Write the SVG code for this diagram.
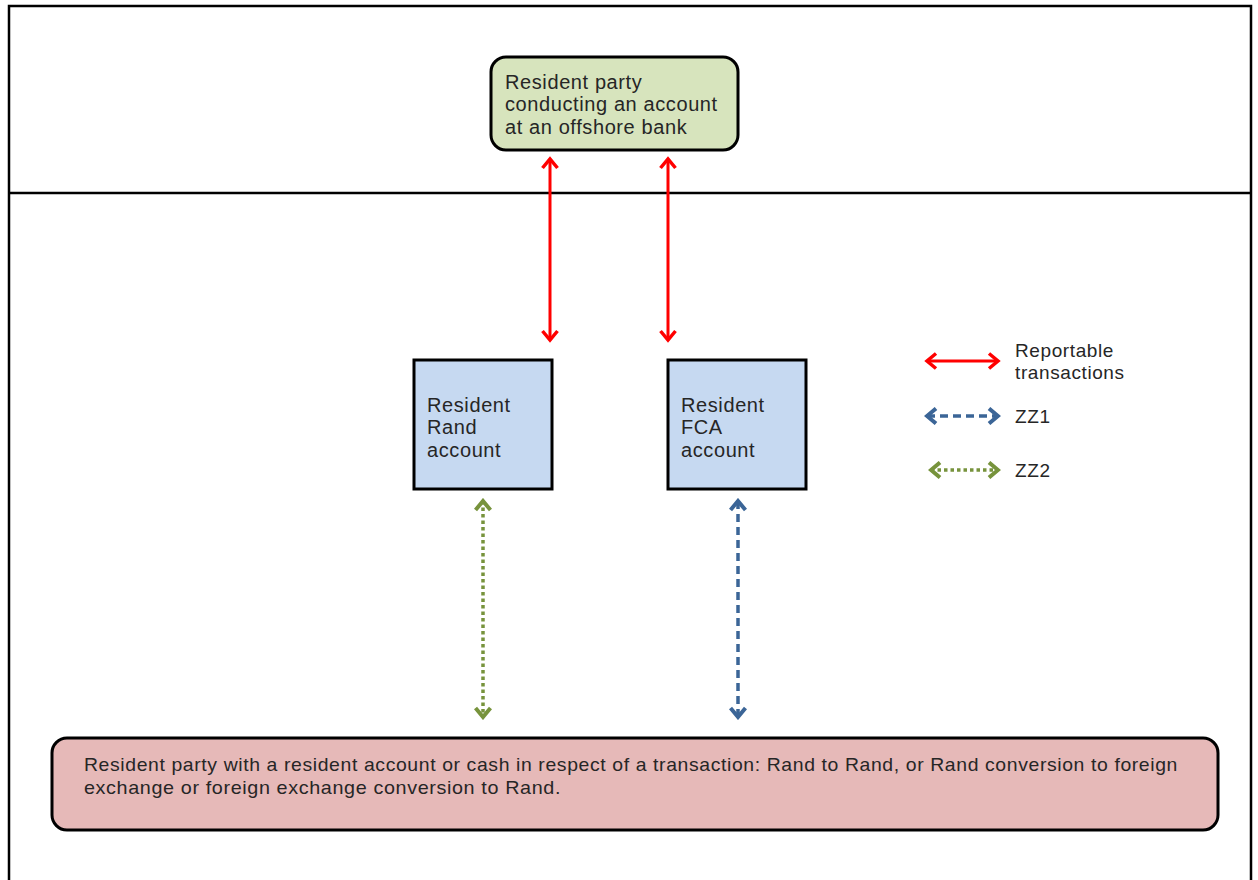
<svg xmlns="http://www.w3.org/2000/svg" width="1258" height="880" viewBox="0 0 1258 880">
<defs>
<style>
.frame{fill:none;stroke:#000;stroke-width:2.5}
.box{stroke:#000;stroke-width:3}
.t{font-family:"Liberation Sans",Arial,sans-serif;fill:#262626;font-size:19px;letter-spacing:0.6px}
.big{font-size:20px}
.red{stroke:#ff0000;stroke-width:3;fill:none}
.blue{stroke:#3b6597;stroke-width:3.5;fill:none;stroke-dasharray:8 5}
.green{stroke:#77933c;stroke-width:3.5;fill:none;stroke-dasharray:3.5 3}
</style>
<marker id="ar" viewBox="0 0 14 18" refX="11" refY="9" markerWidth="14" markerHeight="18" markerUnits="userSpaceOnUse" orient="auto-start-reverse"><path d="M2,1.5 L11,9 L2,16.5" fill="none" stroke="#ff0000" stroke-width="3.5"/></marker>
<marker id="ab" viewBox="0 0 14 18" refX="11" refY="9" markerWidth="14" markerHeight="18" markerUnits="userSpaceOnUse" orient="auto-start-reverse"><path d="M2,1.5 L11,9 L2,16.5" fill="none" stroke="#3b6597" stroke-width="4"/></marker>
<marker id="ag" viewBox="0 0 14 18" refX="11" refY="9" markerWidth="14" markerHeight="18" markerUnits="userSpaceOnUse" orient="auto-start-reverse"><path d="M2,1.5 L11,9 L2,16.5" fill="none" stroke="#77933c" stroke-width="4"/></marker>
</defs>
<rect width="1258" height="880" fill="#fff"/>
<g id="frame">
<path class="frame" d="M9,890 V6 H1251 V890"/>
<line class="frame" x1="9" y1="193" x2="1251" y2="193"/>
</g>
<g id="offshore">
<rect class="box" x="491" y="57" width="247" height="93" rx="15" fill="#d7e4bd"/>
<text class="t big" x="505" y="89">Resident party</text>
<text class="t big" x="505" y="111">conducting an account</text>
<text class="t big" x="505" y="134">at an offshore bank</text>
</g>
<g id="rand">
<rect class="box" x="414" y="360" width="138" height="129" fill="#c6d9f1"/>
<text class="t big" x="427" y="412">Resident</text>
<text class="t big" x="427" y="434">Rand</text>
<text class="t big" x="427" y="457">account</text>
</g>
<g id="fca">
<rect class="box" x="668" y="360" width="138" height="129" fill="#c6d9f1"/>
<text class="t big" x="681" y="412">Resident</text>
<text class="t big" x="681" y="434">FCA</text>
<text class="t big" x="681" y="457">account</text>
</g>
<g id="resident">
<rect class="box" x="52" y="738" width="1166" height="92" rx="15" fill="#e6b9b8"/>
<text class="t" x="84" y="771" textLength="1094" lengthAdjust="spacingAndGlyphs">Resident party with a resident account or cash in respect of a transaction: Rand to Rand, or Rand conversion to  foreign</text>
<text class="t" x="84" y="794" textLength="477" lengthAdjust="spacingAndGlyphs">exchange or  foreign exchange conversion to Rand.</text>
</g>
<g id="legend">
<line class="red" x1="927" y1="361" x2="998" y2="361" marker-start="url(#ar)" marker-end="url(#ar)"/>
<text class="t" x="1015" y="357">Reportable</text>
<text class="t" x="1015" y="379">transactions</text>
<line class="blue" x1="927" y1="416" x2="998" y2="416" marker-start="url(#ab)" marker-end="url(#ab)"/>
<text class="t" x="1015" y="423">ZZ1</text>
<line class="green" x1="931" y1="470" x2="998" y2="470" marker-start="url(#ag)" marker-end="url(#ag)"/>
<text class="t" x="1015" y="477">ZZ2</text>
</g>
<g id="connectors">
<line class="red" x1="550" y1="159" x2="550" y2="340" marker-start="url(#ar)" marker-end="url(#ar)"/>
<line class="red" x1="668" y1="159" x2="668" y2="340" marker-start="url(#ar)" marker-end="url(#ar)"/>
<line class="green" x1="483" y1="501" x2="483" y2="717" marker-start="url(#ag)" marker-end="url(#ag)"/>
<line class="blue" x1="738" y1="501" x2="738" y2="717" marker-start="url(#ab)" marker-end="url(#ab)"/>
</g>
</svg>
